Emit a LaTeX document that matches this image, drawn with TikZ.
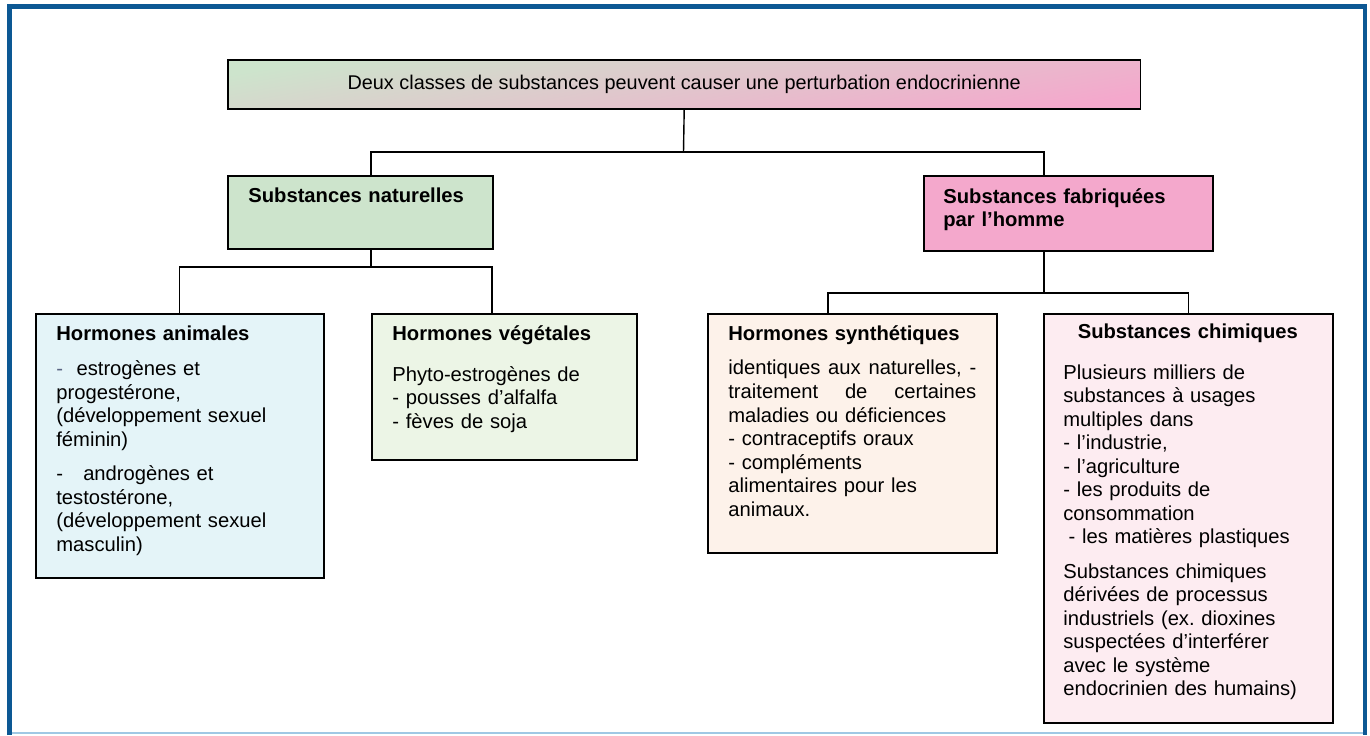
\documentclass[tikz,border=0pt]{standalone}
\usepackage{fontspec}
\setmainfont{Liberation Sans}
\usepackage{xcolor}
\usepackage{tikz}
\usetikzlibrary{positioning}

\definecolor{natgreen}{RGB}{205,228,204}
\definecolor{manpink}{RGB}{244,168,204}
\definecolor{animblue}{RGB}{228,244,248}
\definecolor{veggreen}{RGB}{236,245,230}
\definecolor{synpeach}{RGB}{253,242,234}
\definecolor{chimpink}{RGB}{253,236,241}
\definecolor{framedark}{RGB}{12,88,148}
\definecolor{framelight}{RGB}{160,200,228}
\definecolor{dashgray}{RGB}{90,100,130}

\begin{document}
\frenchspacing
\begin{tikzpicture}[
    x=0.02cm, y=-0.02cm,
    box/.style={draw, line width=0.9pt, anchor=north west, inner sep=0pt, fill=#1},
    lbl/.style={anchor=base west, inner sep=0pt, align=left, text width=#1,
                font=\fontsize{11.5}{13.4}\selectfont},
    link/.style={line width=0.8pt}
]
\useasboundingbox (0,0) rectangle (1370,735);

% Frame
\draw[line width=2.8pt, framedark] (9.5,735) -- (9.5,6.5) -- (1365,6.5) -- (1365,735);
\draw[line width=1.2pt, framelight] (12,733) -- (1363,733);

% Boxes (top to bottom)
\node[box=natgreen, top color=natgreen, bottom color=manpink, shading angle=10,
      minimum width=18.26cm, minimum height=0.98cm,
      font=\fontsize{11.3}{13}\selectfont] (top) at (227,59)
      {Deux classes de substances peuvent causer une perturbation endocrinienne};
\node[box=natgreen, minimum width=5.3cm, minimum height=1.46cm] (nat) at (227,175) {};
\node[box=manpink, minimum width=5.78cm, minimum height=1.5cm] (man) at (923,175) {};
\node[box=animblue, minimum width=5.76cm, minimum height=5.28cm] (anim) at (35,313) {};
\node[box=veggreen, minimum width=5.3cm, minimum height=2.92cm] (veg) at (371,313) {};
\node[box=synpeach, minimum width=5.78cm, minimum height=4.78cm] (syn) at (707,313) {};
\node[box=chimpink, minimum width=5.78cm, minimum height=8.18cm] (chim) at (1043,313) {};

% Texts
\node[lbl=5cm] (natlbl) at (248,202) {\textbf{Substances naturelles}};
\node[lbl=5cm] (manlbl) at (943,203) {\textbf{Substances fabriquées}\\\textbf{par l’homme}};
\node[lbl=5cm] (animlbl) at (56,340) {\textbf{Hormones animales}\\[7pt]
    {\color{dashgray}-}\ \ estrogènes et\\
    progestérone,\\
    (développement sexuel\\
    féminin)\\[6pt]
    -\ \ \ androgènes et\\
    testostérone,\\
    (développement sexuel\\
    masculin)};
\node[lbl=4.8cm] (veglbl) at (392,340) {\textbf{Hormones végétales}\\[10pt]
    Phyto-estrogènes de\\
    - pousses d’alfalfa\\
    - fèves de soja};
\node[lbl=4.96cm] (synlbl) at (728,340) {\textbf{Hormones synthétiques}\\[6.5pt]
    identiques\hfill aux\hfill naturelles,\hfill -\\
    traitement\hfill de\hfill certaines\\
    maladies ou déficiences\\
    - contraceptifs oraux\\
    - compléments\\
    alimentaires pour les\\
    animaux.};
\node[lbl=4.98cm] (chimlbl) at (1063,338) {\makebox[\linewidth]{\textbf{Substances chimiques}}\\[10pt]
    Plusieurs milliers de\\
    substances à usages\\
    multiples dans\\
    - l’industrie,\\
    - l’agriculture\\
    - les produits de\\
    consommation\\
    \hspace*{3pt}- les matières plastiques\\[6pt]
    Substances chimiques\\
    dérivées de processus\\
    industriels (ex. dioxines\\
    suspectées d’interférer\\
    avec le système\\
    endocrinien des humains)};

% Connectors
\coordinate (j1) at (683.5,152);
\coordinate (j2) at (371,267);
\coordinate (j3) at (1044,293);
\draw[link] (top.south) -- (j1);
\draw[link] (nat.north -| j2) |- (j1) -| (man.north -| j3);
\draw[link] (nat.south -| j2) -- (j2);
\draw[link] (anim.north) |- (j2) -| (veg.north -| 492,0);
\draw[link] (man.south -| j3) -- (j3);
\draw[link] (syn.north -| 828,0) |- (j3) -| (chim.north);

\end{tikzpicture}
\end{document}
